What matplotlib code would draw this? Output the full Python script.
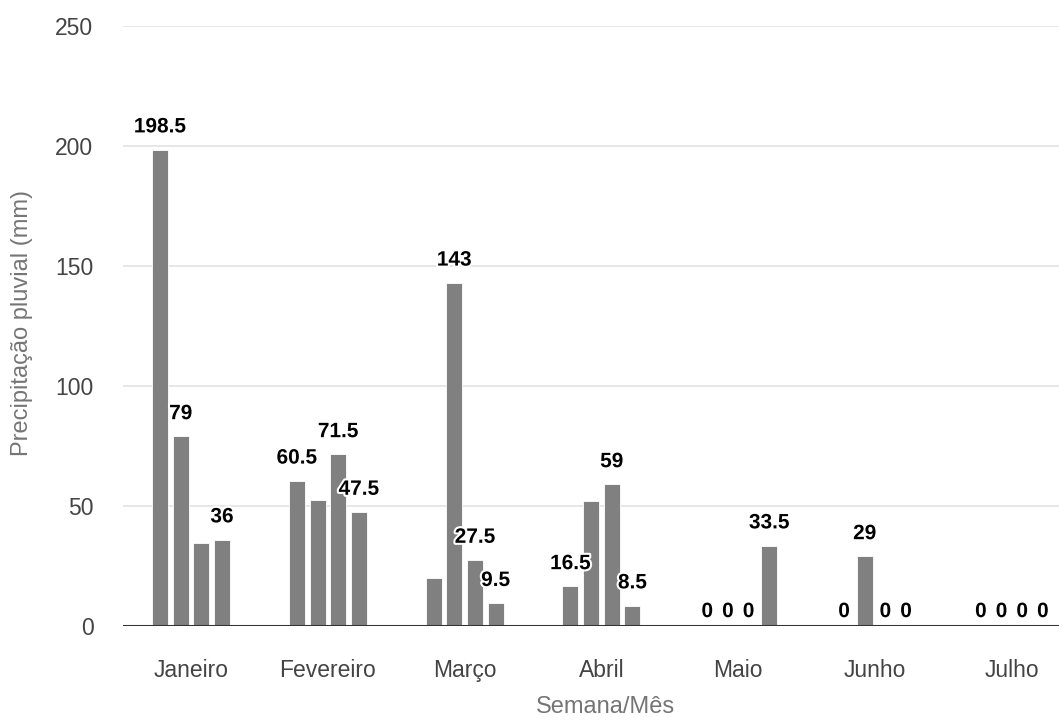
import matplotlib.pyplot as plt
import matplotlib.patheffects as pe
import numpy as np

MONTHS = ["Janeiro", "Fevereiro", "Março", "Abril", "Maio", "Junho", "Julho"]
WEEK_1 = [198.5, 60.5, 20.0, 16.5, 0, 0, 0]
WEEK_2 = [79, 52.5, 143, 52.0, 0, 29, 0]
WEEK_3 = [34.5, 71.5, 27.5, 59, 0, 0, 0]
WEEK_4 = [36, 47.5, 9.5, 8.5, 33.5, 0, 0]
# labels the chart leaves out where they would collide
HIDDEN = {(0, 2), (1, 1), (2, 0), (3, 1)}

BAR_COLOR = "#808080"
TICK_COLOR = "#444444"
TITLE_COLOR = "#757575"


def main() -> None:
    plt.rcParams["font.family"] = ["Liberation Sans", "DejaVu Sans"]

    fig = plt.figure(figsize=(10.59, 7.22), dpi=100)
    ax = fig.add_axes([0.1158, 0.1330, 0.9043, 0.8310])

    weeks = [WEEK_1, WEEK_2, WEEK_3, WEEK_4]
    x = np.arange(len(MONTHS))
    step, width = 0.151, 0.117
    halo = [pe.withStroke(linewidth=3, foreground="white")]

    for w, values in enumerate(weeks):
        xs = x + (w - 1.5) * step
        ax.bar(xs, values, width=width, color=BAR_COLOR, edgecolor="white",
               linewidth=0.6, zorder=2)
        for m, (xi, v) in enumerate(zip(xs, values)):
            if (m, w) in HIDDEN:
                continue
            ax.annotate(f"{v:g}", (xi, v), xytext=(0, 3.5 if v == 0 else 9.5),
                        textcoords="offset points", ha="center", va="bottom",
                        fontsize=15, fontweight="bold", color="black",
                        path_effects=halo, zorder=4)

    ax.set_xlim(-0.5, len(MONTHS) - 0.5)
    ax.set_ylim(0, 250)
    ax.set_yticks(range(0, 251, 50))
    ax.set_xticks(x)
    ax.set_xticklabels(MONTHS)
    ax.grid(axis="y", color="#e3e3e3", linewidth=1.2, zorder=0)
    ax.axhline(0, color="#333333", linewidth=2.2, zorder=3)
    for side in ax.spines.values():
        side.set_visible(False)
    ax.tick_params(axis="both", length=0, labelsize=16.5, colors=TICK_COLOR)
    ax.tick_params(axis="y", pad=21)
    ax.tick_params(axis="x", pad=23.5)

    fig.text(0.572, 0.021, "Semana/Mês", ha="center", va="center",
             fontsize=17, color=TITLE_COLOR)
    fig.text(0.021, 0.553, "Precipitação pluvial (mm)", ha="center",
             va="center", rotation=90, fontsize=17, color=TITLE_COLOR)

    fig.savefig("out.png", dpi=100, facecolor="white")
    plt.close(fig)


if __name__ == "__main__":
    main()
